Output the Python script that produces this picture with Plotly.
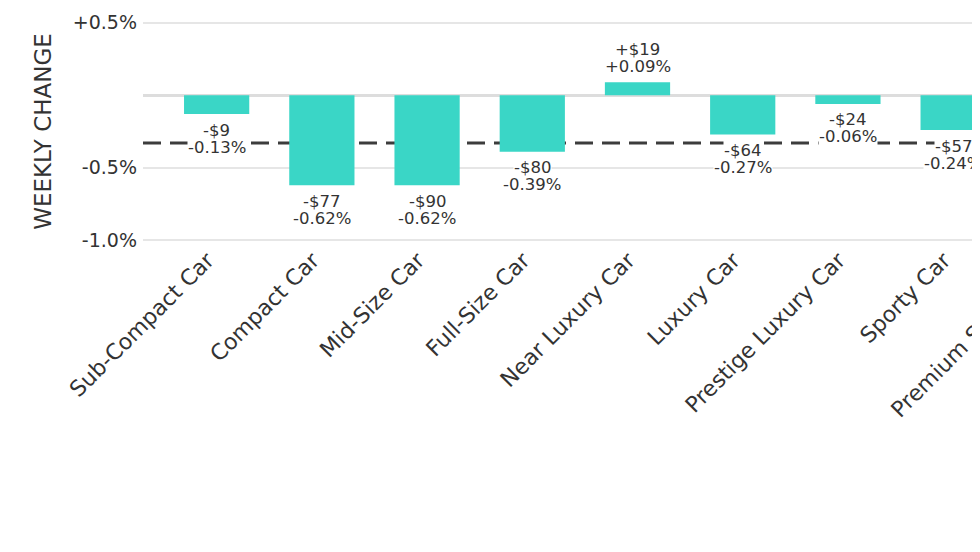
import plotly.graph_objects as go

# weekly change by car segment
segments = ['Sub-Compact Car', 'Compact Car', 'Mid-Size Car', 'Full-Size Car',
            'Near Luxury Car', 'Luxury Car', 'Prestige Luxury Car', 'Sporty Car',
            'Premium Sporty Car']
dollar_change = [-9, -77, -90, -80, 19, -64, -24, -57, -41]
pct_change = [-0.13, -0.62, -0.62, -0.39, 0.09, -0.27, -0.06, -0.24, -0.21]
avg_change = -0.33

y_tickvals = [-1.0, -0.5, 0, 0.5]
y_ticktext = ['-1.0%', '-0.5%', '', '+0.5%']

bar_color = '#3ad6c6'
text_color = '#333333'
font_family = 'DejaVu Sans'


def fmt_dollar(v):
    return ('+$' if v > 0 else '-$') + str(abs(v))


def fmt_pct(v):
    return ('+' if v > 0 else '-') + '%.2f%%' % abs(v)


fig = go.Figure()
fig.add_trace(go.Bar(x=segments, y=pct_change, marker_color=bar_color,
                     marker_line_width=0, hoverinfo='skip'))

# average line, drawn between gridlines and bars
fig.add_shape(type='line', xref='paper', x0=0, x1=1, yref='y',
              y0=avg_change, y1=avg_change, layer='between',
              line=dict(color='#3c3c3c', width=3, dash='18px,9px'))

# two lines of label per bar: percent first so the dollar box sits on top
annots = []
for seg, d, p in zip(segments, dollar_change, pct_change):
    annots.append(dict(x=seg, y=p, text=fmt_pct(p), showarrow=False,
                       yanchor='middle', yshift=16 if p > 0 else -33,
                       bgcolor='white', borderpad=0,
                       font=dict(size=16.5, color=text_color, family=font_family)))
for seg, d, p in zip(segments, dollar_change, pct_change):
    annots.append(dict(x=seg, y=p, text=fmt_dollar(d), showarrow=False,
                       yanchor='middle', yshift=33 if p > 0 else -16,
                       bgcolor='white', borderpad=0,
                       font=dict(size=16.5, color=text_color, family=font_family)))

fig.update_layout(
    width=1274, height=440,
    margin=dict(l=135, r=150, t=12.5, b=205.5),
    plot_bgcolor='white', paper_bgcolor='white',
    font=dict(family=font_family, color=text_color),
    showlegend=False,
    bargap=0.38,
    annotations=annots,
    xaxis=dict(range=[-0.7, len(segments) - 0.3], tickangle=-45,
               tickfont=dict(size=22, color=text_color), ticklabelshift=-9,
               showgrid=False, showline=False, ticks='', automargin=False),
    yaxis=dict(range=[-1.012, 0.512], tickvals=y_tickvals, ticktext=y_ticktext,
               tickfont=dict(size=19, color=text_color), ticklabelstandoff=5,
               title=dict(text='WEEKLY CHANGE', font=dict(size=23, color=text_color),
                          standoff=14),
               gridcolor='#e6e6e6', gridwidth=2,
               zeroline=True, zerolinecolor='#dddddd', zerolinewidth=3,
               showline=False, ticks='', automargin=False),
)

fig.write_html("out.html")
